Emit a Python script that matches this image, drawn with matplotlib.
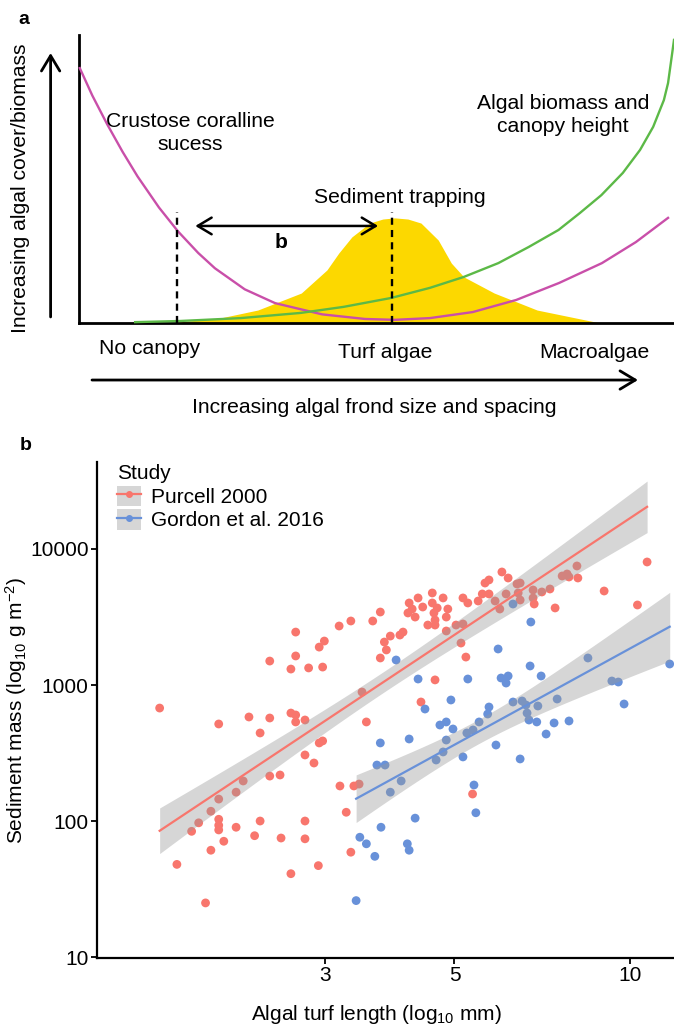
import numpy as np
import matplotlib
matplotlib.use('Agg')
import matplotlib.pyplot as plt
from matplotlib.patches import Patch
from matplotlib.lines import Line2D
from matplotlib.ticker import NullLocator, FixedLocator, FixedFormatter

plt.rcParams['font.family'] = ['Liberation Sans', 'DejaVu Sans']
plt.rcParams['mathtext.fontset'] = 'custom'
plt.rcParams['mathtext.rm'] = 'Liberation Sans'
plt.rcParams['mathtext.default'] = 'regular'

# ---- panel a: schematic curves (fraction of axis box)
crustose_u = [0.002, 0.023, 0.048, 0.074, 0.099, 0.135, 0.167, 0.201, 0.229, 0.279,
              0.330, 0.409, 0.481, 0.531, 0.590, 0.662, 0.735, 0.807, 0.879, 0.936, 0.990]
crustose_v = [0.885, 0.790, 0.690, 0.594, 0.509, 0.401, 0.318, 0.243, 0.190, 0.117,
              0.069, 0.030, 0.014, 0.011, 0.017, 0.038, 0.080, 0.139, 0.208, 0.281, 0.365]

biomass_u = [0.095, 0.171, 0.272, 0.373, 0.445, 0.525, 0.590, 0.647, 0.705, 0.756,
             0.806, 0.842, 0.878, 0.914, 0.943, 0.965, 0.983, 0.990, 0.997, 1.000]
biomass_v = [0.003, 0.007, 0.017, 0.035, 0.056, 0.087, 0.122, 0.160, 0.208, 0.264,
             0.323, 0.382, 0.444, 0.521, 0.601, 0.681, 0.774, 0.833, 0.9375, 0.983]

trapping_u = [0.164, 0.237, 0.301, 0.374, 0.417, 0.437, 0.459, 0.489, 0.511, 0.531,
              0.553, 0.575, 0.604, 0.626, 0.647, 0.698, 0.770, 0.876]
trapping_v = [0.003, 0.017, 0.045, 0.104, 0.184, 0.243, 0.299, 0.347, 0.361, 0.365,
              0.361, 0.347, 0.288, 0.208, 0.160, 0.104, 0.045, 0.0]

marker_u = [0.165, 0.526]
marker_top = 0.385
span_v = 0.337
span_u = (0.196, 0.503)

# ---- panel b: sediment mass vs algal turf length
purcell_len = [
    2.67, 3.17, 3.32, 3.62, 3.73, 2.99, 2.93, 3.79, 3.82, 2.67,
    3.73, 2.41, 2.62, 2.81, 2.97, 3.88, 4.03, 4.08, 4.18, 4.23,
    4.16, 4.28, 4.33, 4.41, 4.58, 4.58, 4.67, 4.61, 4.78, 4.87,
    4.84, 4.50, 4.63, 4.63, 5.17, 5.27, 5.49, 5.58, 5.73, 6.13,
    5.87, 5.98, 6.43, 6.48, 6.82, 6.82, 6.85, 7.06, 7.29, 7.44,
    6.03, 6.18, 5.64, 5.73, 6.40, 6.48, 7.65, 7.80, 7.86, 8.11,
    8.14, 9.03, 10.3, 10.7, 5.03, 5.17, 4.84, 5.13, 5.23, 4.63,
    4.38, 1.56, 1.97, 2.22, 2.41, 2.62, 2.67, 2.67, 2.77, 2.32,
    3.47, 3.53, 2.93, 2.97, 2.77, 2.87, 2.41, 2.51, 2.17, 2.11,
    1.97, 1.91, 1.82, 1.77, 1.97, 1.97, 1.97, 2.11, 2.32, 2.01,
    2.27, 1.91, 1.67, 2.52, 2.77, 2.77, 2.62, 2.92, 1.87, 3.18,
    3.36, 3.43, 3.26, 3.32, 5.37]
purcell_mass = [
    2450, 2715, 2955, 2955, 3440, 2105, 1900, 2070, 1810, 1635,
    1580, 1500, 1310, 1335, 1355, 2290, 2330, 2450, 4010, 3620,
    3385, 3160, 4365, 3745, 4750, 4010, 3685, 3385, 4365, 3620,
    3160, 2760, 2760, 3005, 4365, 4010, 4145, 4670, 4670, 4670,
    4145, 3620, 4750, 4215, 4995, 4365, 3940, 4830, 5080, 3685,
    6775, 6120, 5620, 5920, 5530, 5620, 6330, 6550, 6225, 7500,
    6120, 4910, 3875, 8025, 2760, 2810, 2495, 2035, 1605, 1090,
    750, 677, 517, 582, 572, 622, 602, 535, 553, 444,
    888, 535, 375, 388, 306, 267, 214, 218, 197, 163,
    145, 118, 97, 84, 103, 93, 86, 90, 100, 71,
    78, 61, 48, 75, 100, 74, 41, 47, 25, 181,
    181, 187, 116, 59, 158]

gordon_len = [
    6.30, 6.76, 5.94, 3.97, 8.47, 6.74, 7.04, 4.33, 5.27, 6.01,
    6.18, 6.13, 11.7, 9.31, 9.55, 9.77, 4.93, 4.45, 6.30, 6.53,
    6.63, 6.95, 7.50, 6.66, 5.73, 5.70, 4.72, 4.84, 4.97, 5.51,
    5.25, 5.38, 6.71, 6.92, 7.41, 7.86, 7.18, 3.73, 4.18, 4.84,
    4.78, 5.17, 4.65, 5.89, 6.48, 3.68, 3.80, 4.05, 3.88, 5.40,
    5.44, 4.28, 3.74, 4.15, 4.18, 3.44, 3.53, 3.65, 3.39]
gordon_mass = [
    3940, 2905, 1840, 1527, 1580, 1380, 1165, 1107, 1107, 1126,
    1165, 1034, 1427, 1070, 1052, 725, 776, 666, 750, 763,
    713, 701, 789, 622, 689, 612, 508, 535, 475, 535,
    444, 467, 553, 535, 526, 544, 436, 375, 401, 394,
    322, 296, 281, 362, 286, 258, 258, 197, 163, 184,
    115, 105, 90, 68, 61, 76, 68, 55, 26]

studies = ['Purcell 2000', 'Gordon et al. 2016']
study_colors = ['#F8766D', '#6891D9']
x_ticks = [3, 5, 10]
y_ticks = [10, 100, 1000, 10000]


def loglog_fit(x, y, n=120):
    """OLS in log-log space with a 95% band for the mean, like geom_smooth(lm)."""
    lx, ly = np.log10(x), np.log10(y)
    slope, intercept = np.polyfit(lx, ly, 1)
    resid = ly - (intercept + slope * lx)
    dof = len(lx) - 2
    s = np.sqrt((resid ** 2).sum() / dof)
    z = 1.959964
    t = z + (z ** 3 + z) / (4 * dof)
    grid = np.linspace(lx.min(), lx.max(), n)
    pred = intercept + slope * grid
    se = s * np.sqrt(1 / len(lx) + (grid - lx.mean()) ** 2 / ((lx - lx.mean()) ** 2).sum())
    return 10 ** grid, 10 ** pred, 10 ** (pred - t * se), 10 ** (pred + t * se)


W, H = 674, 1026
fig = plt.figure(figsize=(W / 100, H / 100), dpi=100)

# ================= panel a =================
ax_a = fig.add_axes([78.6 / W, 1 - 323 / H, 595.4 / W, 288 / H])
ax_a.set_xlim(0, 1)
ax_a.set_ylim(0, 1)
ax_a.fill_between(trapping_u, trapping_v, 0, color='#FCD800', lw=0, zorder=1)
ax_a.plot(crustose_u, crustose_v, color='#C94FA9', lw=1.7, zorder=3, clip_on=False)
ax_a.plot(biomass_u, biomass_v, color='#5CB947', lw=1.7, zorder=3, clip_on=False)
for u in marker_u:
    ax_a.plot([u, u], [0, marker_top], color='black', lw=1.7, ls=(0, (3, 2.2)), zorder=4)
ax_a.annotate('', xy=(span_u[0], span_v), xytext=(span_u[1], span_v),
              arrowprops=dict(arrowstyle='<->,head_length=0.5,head_width=0.3', lw=1.8,
                              color='black', mutation_scale=20, shrinkA=0, shrinkB=0))
for side in ['top', 'right']:
    ax_a.spines[side].set_visible(False)
for side in ['left', 'bottom']:
    ax_a.spines[side].set_linewidth(2.0)
ax_a.set_xticks([])
ax_a.set_yticks([])

arrow_kw = dict(arrowstyle='->,head_length=0.5,head_width=0.3', lw=2.0, color='black',
                mutation_scale=22, shrinkA=0, shrinkB=0)
ax_a.annotate('', xy=(-0.047, 0.9375), xytext=(-0.047, 0.021), xycoords='axes fraction',
              arrowprops=arrow_kw, annotation_clip=False)
ax_a.annotate('', xy=(0.9395, -0.198), xytext=(0.0225, -0.198), xycoords='axes fraction',
              arrowprops=arrow_kw, annotation_clip=False)

txt = dict(fontsize=15.2, ha='center', va='center', clip_on=False)
ax_a.text(0.187, 0.66, 'Crustose coralline\nsucess', linespacing=1.25, **txt)
ax_a.text(0.814, 0.722, 'Algal biomass and\ncanopy height', linespacing=1.25, **txt)
ax_a.text(0.540, 0.4375, 'Sediment trapping', **txt)
ax_a.text(0.340, 0.281, 'b', fontweight='bold', **txt)
ax_a.text(0.120, -0.087, 'No canopy', **txt)
ax_a.text(0.515, -0.104, 'Turf algae', **txt)
ax_a.text(0.867, -0.104, 'Macroalgae', **txt)
ax_a.text(0.496, -0.295, 'Increasing algal frond size and spacing', **txt)
ax_a.text(-0.097, 0.469, 'Increasing algal cover/biomass', rotation=90, **txt)

fig.text(24 / W, 1 - 19 / H, 'a', fontsize=14, fontweight='bold', ha='center', va='center')
fig.text(26 / W, 1 - 446 / H, 'b', fontsize=14, fontweight='bold', ha='center', va='center')

# ================= panel b =================
ax_b = fig.add_axes([97 / W, 68 / H, 577 / W, 496 / H])
ax_b.set_xscale('log')
ax_b.set_yscale('log')

handles = []
for name, xs, ys, color in zip(studies, [purcell_len, gordon_len],
                               [purcell_mass, gordon_mass], study_colors):
    xs = np.asarray(xs, dtype=float)
    ys = np.asarray(ys, dtype=float)
    ax_b.scatter(xs, ys, s=40, color=color, edgecolors='none', zorder=2, clip_on=False)
    gx, gy, lo, hi = loglog_fit(xs, ys)
    ax_b.fill_between(gx, lo, hi, color='#999999', alpha=0.4, lw=0, zorder=3)
    ax_b.plot(gx, gy, color=color, lw=1.6, zorder=4)
    handles.append((Patch(facecolor='#999999', alpha=0.4, edgecolor='none'),
                    Line2D([], [], color=color, lw=1.6, marker='o', markersize=4)))

ax_b.set_xlim(1.218, 11.9)
ax_b.set_ylim(9.84, 43600)
ax_b.xaxis.set_major_locator(FixedLocator(x_ticks))
ax_b.xaxis.set_major_formatter(FixedFormatter([str(v) for v in x_ticks]))
ax_b.xaxis.set_minor_locator(NullLocator())
ax_b.yaxis.set_major_locator(FixedLocator(y_ticks))
ax_b.yaxis.set_major_formatter(FixedFormatter([str(v) for v in y_ticks]))
ax_b.yaxis.set_minor_locator(NullLocator())
ax_b.tick_params(direction='out', length=4, width=1.3, labelsize=15, pad=2, colors='black')

for side in ['top', 'right']:
    ax_b.spines[side].set_visible(False)
for side in ['left', 'bottom']:
    ax_b.spines[side].set_linewidth(1.6)

ax_b.set_xlabel('Algal turf length (log$_{10}$ mm)', fontsize=15)
ax_b.xaxis.set_label_coords(0.485, -0.09)
ax_b.set_ylabel('Sediment mass (log$_{10}$ g m$^{-2}$)', fontsize=15)
ax_b.yaxis.set_label_coords(-0.118, 0.5)

leg = ax_b.legend(handles, studies, title='Study', loc='upper left',
                  bbox_to_anchor=(0.035, 0.995), frameon=False, fontsize=15,
                  title_fontsize=15, handlelength=1.15, handleheight=1.15,
                  handletextpad=0.45, labelspacing=0.1, borderpad=0, borderaxespad=0,
                  alignment='left')

fig.savefig('out.png', dpi=100)
